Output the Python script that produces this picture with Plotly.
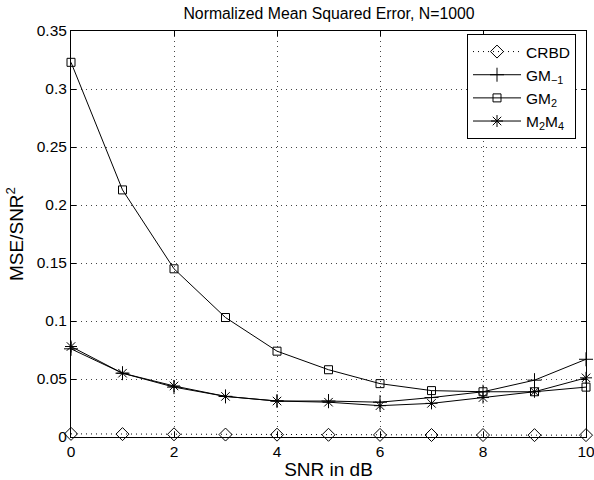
import plotly.graph_objects as go

snr_db = [0, 1, 2, 3, 4, 5, 6, 7, 8, 9, 10]
crbd = [0.0027, 0.0025, 0.0023, 0.0021, 0.0020, 0.0019, 0.0018, 0.0017, 0.0017, 0.0016, 0.0016]
gm_m1 = [0.076, 0.055, 0.043, 0.035, 0.031, 0.031, 0.030, 0.034, 0.039, 0.049, 0.067]
gm_2 = [0.323, 0.213, 0.145, 0.103, 0.074, 0.058, 0.046, 0.040, 0.039, 0.039, 0.043]
m2m4 = [0.078, 0.055, 0.044, 0.035, 0.031, 0.030, 0.027, 0.029, 0.034, 0.039, 0.051]

names = ["CRBD", "GM<sub>−1</sub>", "GM<sub>2</sub>", "M<sub>2</sub>M<sub>4</sub>"]
series = [crbd, gm_m1, gm_2, m2m4]
symbols = ["diamond-open", "cross-thin-open", "square-open", "asterisk-open"]
dashes = ["1px,4px", "solid", "solid", "solid"]
sizes = [10, 10, 8, 10]

fig = go.Figure()
for name, ys, sym, dash, sz in zip(names, series, symbols, dashes, sizes):
    fig.add_trace(go.Scatter(
        x=snr_db, y=ys, name=name, mode="lines+markers",
        line=dict(color="black", width=1, dash=dash),
        marker=dict(symbol=sym, size=sz, color="black", line=dict(color="black", width=1)),
        cliponaxis=False,
    ))

axis_common = dict(
    showline=True, linecolor="black", linewidth=1, mirror="ticks",
    ticks="inside", ticklen=5, tickcolor="black",
    showgrid=True, gridcolor="#444", gridwidth=1, griddash="1px,4px",
    zeroline=False, tickfont=dict(size=15.5, color="black"),
    automargin=False, ticklabeloverflow="allow",
)

fig.update_layout(
    width=594, height=480,
    margin=dict(l=71, r=8, t=31, b=43),
    paper_bgcolor="white", plot_bgcolor="white",
    font=dict(family="Liberation Sans, Arial, sans-serif", color="black", size=15.5),
    title=dict(text="Normalized Mean Squared Error, N=1000", x=329 / 594, xanchor="center",
               y=1 - 13 / 480, yanchor="middle", font=dict(size=15.8)),
    xaxis=dict(range=[0, 10], dtick=2, title=dict(text="SNR in dB", standoff=12), **axis_common),
    yaxis=dict(range=[0, 0.35], dtick=0.05, title=dict(text="MSE/SNR<sup>2</sup>", standoff=8), **axis_common),
    legend=dict(x=(467 - 71) / 515, y=(437 - 34) / 406, xanchor="left", yanchor="top",
                bordercolor="black", borderwidth=1, bgcolor="white",
                font=dict(size=15.5), tracegroupgap=0, itemwidth=48),
    showlegend=True,
)

fig.write_html("out.html", config={"displayModeBar": False},
               post_script="document.body.style.margin='0';")
